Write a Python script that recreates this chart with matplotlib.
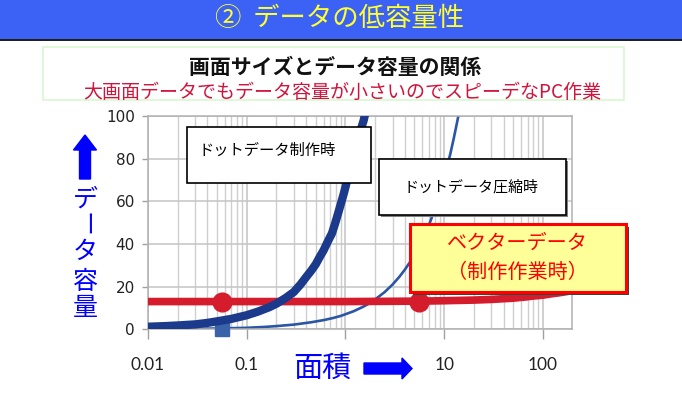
import matplotlib
matplotlib.use("Agg")
import matplotlib.pyplot as plt
from matplotlib.patches import Rectangle, FancyArrow

plt.rcParams['font.family'] = ['Noto Sans CJK JP', 'DejaVu Sans']

# ---- data ----
area_dot = [0.01, 0.015, 0.02, 0.03, 0.04, 0.054, 0.07, 0.1, 0.13, 0.17, 0.2, 0.25, 0.3, 0.35,
            0.4, 0.45, 0.5, 0.55, 0.6, 0.66, 0.73, 0.79, 0.85, 0.9, 0.96, 1.03, 1.1, 1.16,
            1.22, 1.3, 1.38, 1.45, 1.53, 1.6]
vol_dot = [1.2, 1.5, 1.8, 2.3, 3.0, 4.0, 4.9, 6.6, 8.3, 10.4, 12.0, 14.8, 17.5, 21.0,
           24.5, 27.5, 30.5, 34.0, 37.0, 41.0, 45.0, 50.0, 55.0, 59.0, 63.5, 69.0, 74.0, 78.5,
           82.5, 87.0, 91.0, 94.5, 98.0, 102.0]

area_zip = [0.01, 0.03, 0.055, 0.1, 0.15, 0.2, 0.3, 0.45, 0.6, 0.75, 0.9, 1.2, 1.5, 1.75,
            2.0, 2.5, 3.0, 3.5, 4.0, 4.5, 5.0, 5.5, 6.0, 6.6, 7.3, 7.9, 8.5, 9.2, 9.9,
            10.7, 11.5, 12.5, 13.5, 14.2]
vol_zip = [0.1, 0.25, 0.4, 0.7, 1.1, 1.5, 2.2, 3.3, 4.3, 5.3, 6.3, 8.4, 10.5, 12.2,
           14.0, 17.5, 21.0, 24.5, 28.0, 31.5, 35.0, 38.5, 42.0, 46.0, 51.0, 55.5, 60.0, 65.5, 71.0,
           76.5, 82.0, 89.5, 97.0, 102.0]

area_vec = [0.01, 0.1, 1, 5.6, 10, 20, 30, 50, 65, 80, 100, 120, 140, 160, 190]
vol_vec = [13.0, 13.0, 13.0, 13.2, 13.4, 13.7, 14.0, 14.6, 15.1, 15.6, 16.0, 16.6, 17.0, 17.4, 18.0]

vec_marker_x = [0.056, 5.6]
vec_marker_y = [13.0, 13.0]
dot_marker_x = [0.056]
dot_marker_y = [0.0]

x_ticks = [0.01, 0.1, 1, 10, 100]
x_ticklabels = ['0.01', '0.1', '', '10', '100']
y_ticks = [0, 20, 40, 60, 80, 100]

W, H = 682, 399
fig = plt.figure(figsize=(W / 100, H / 100), dpi=100)


def fx(px):
    return px / W


def fy(py):
    return 1 - py / H


# ---- banner ----
fig.patches.append(Rectangle((0, fy(38.5)), 1, 38.5 / H, transform=fig.transFigure,
                             facecolor='#3b62f4', edgecolor='none', zorder=0))
fig.patches.append(Rectangle((0, fy(40.5)), 1, 2 / H, transform=fig.transFigure,
                             facecolor='#202020', edgecolor='none', zorder=0))
fig.text(fx(340), fy(19), '②  データの低容量性', color='#ffff33', fontsize=19,
         ha='center', va='center')

# ---- subtitle box ----
fig.patches.append(Rectangle((fx(43), fy(100)), (624 - 43) / W, 53 / H, transform=fig.transFigure,
                             facecolor='white', edgecolor='#d8f8d0', linewidth=1.2, zorder=0))
fig.text(fx(335), fy(67.5), '画面サイズとデータ容量の関係', color='#111111', fontsize=15,
         ha='center', va='center', fontweight='bold')
fig.text(fx(342), fy(92.5), '大画面データでもデータ容量が小さいのでスピーデなPC作業', color='#d0143c',
         fontsize=13.7, ha='center', va='center')

# ---- axes ----
ax = fig.add_axes([fx(148), fy(329.3), (572 - 148) / W, (329.3 - 116) / H])
ax.set_xscale('log')
ax.set_xlim(0.01, 197)
ax.set_ylim(0, 100)

ax.plot(area_vec, vol_vec, color='#d41c2c', linewidth=5.5, solid_capstyle='butt', zorder=3)
ax.plot(area_zip, vol_zip, color='#2b55a5', linewidth=1.9, zorder=2)
ax.plot(dot_marker_x, dot_marker_y, marker='s', markersize=10, color='#3a62a8',
        linestyle='none', clip_on=False, zorder=3.5)
ax.plot(area_dot, vol_dot, color='#1c3a8c', linewidth=6, zorder=4, solid_joinstyle='round')
ax.plot(vec_marker_x, vec_marker_y, marker='o', markersize=13.5, color='#d41c2c',
        linestyle='none', zorder=5)

ax.set_xticks(x_ticks)
ax.set_xticklabels(x_ticklabels, fontfamily='Lato', fontsize=12.5, color='#222222')
ax.set_yticks(y_ticks)
ax.set_yticklabels([str(v) for v in y_ticks], fontfamily='DejaVu Sans', fontsize=11, color='#222222')
ax.tick_params(axis='y', length=4.5, width=1, color='#a0a0a0', pad=5)
ax.tick_params(axis='x', which='major', length=7, width=1, color='#a0a0a0', pad=13)
ax.tick_params(axis='x', which='minor', length=0)
ax.grid(True, which='major', axis='both', color='#c4c4c4', linewidth=1.1, zorder=0)
ax.grid(True, which='minor', axis='x', color='#cfcfcf', linewidth=1.0, zorder=0)
ax.set_axisbelow(True)
for s in ax.spines.values():
    s.set_color('#b0b0b0')
    s.set_linewidth(1.1)


# ---- callout boxes ----
def box(x0, y0, x1, y1, fc, ec, lw, shadow_color, shadow_off):
    if shadow_off:
        fig.patches.append(Rectangle((fx(x0 + shadow_off), fy(y1 + shadow_off)), (x1 - x0) / W,
                                     (y1 - y0) / H, transform=fig.transFigure,
                                     facecolor=shadow_color, edgecolor='none', zorder=6))
    fig.patches.append(Rectangle((fx(x0), fy(y1)), (x1 - x0) / W, (y1 - y0) / H,
                                 transform=fig.transFigure, facecolor=fc, edgecolor=ec,
                                 linewidth=lw, zorder=7))


box(187, 127, 371, 183, 'white', 'black', 1.2, '#808080', 0)
fig.text(fx(198), fy(150), 'ドットデータ制作時', fontsize=11, color='black',
         ha='left', va='center', zorder=8)

box(379, 159, 566, 215, 'white', 'black', 1.2, '#808080', 2)
fig.text(fx(471), fy(187), 'ドットデータ圧縮時', fontsize=10.8, color='black',
         ha='center', va='center', zorder=8)

box(410, 224, 626, 292, '#ffff99', '#ff0000', 2.2, '#404040', 3)
fig.text(fx(517), fy(243), 'ベクターデータ', fontsize=14.5, color='#ff0000',
         ha='center', va='center', zorder=8)
fig.text(fx(517), fy(272), '（制作作業時）', fontsize=14.5, color='#ff0000',
         ha='center', va='center', zorder=8)

# ---- axis labels with arrows ----
blue = '#0000ff'
fig.text(fx(322), fy(369), '面積', fontsize=21, color=blue, ha='center', va='center')
fig.patches.append(FancyArrow(fx(364), fy(368.5), (402 - 364) / W, 0, width=11 / H,
                              head_width=21 / H, head_length=10 / W, length_includes_head=False,
                              transform=fig.transFigure, color=blue, zorder=5))

fig.patches.append(FancyArrow(fx(85), fy(179), 0, (179 - 150) / H, width=11 / W,
                              head_width=23 / W, head_length=15 / H, length_includes_head=False,
                              transform=fig.transFigure, color=blue, zorder=5))
ylabel_chars = ['デ', 'ー', 'タ', '容', '量']
ylabel_pos = [200, 225, 252, 282, 308]
for ch, py in zip(ylabel_chars, ylabel_pos):
    fig.text(fx(85), fy(py), ch, fontsize=18, color=blue, ha='center', va='center',
             rotation=(-90 if ch == 'ー' else 0))

fig.savefig('out.png', dpi=100)
